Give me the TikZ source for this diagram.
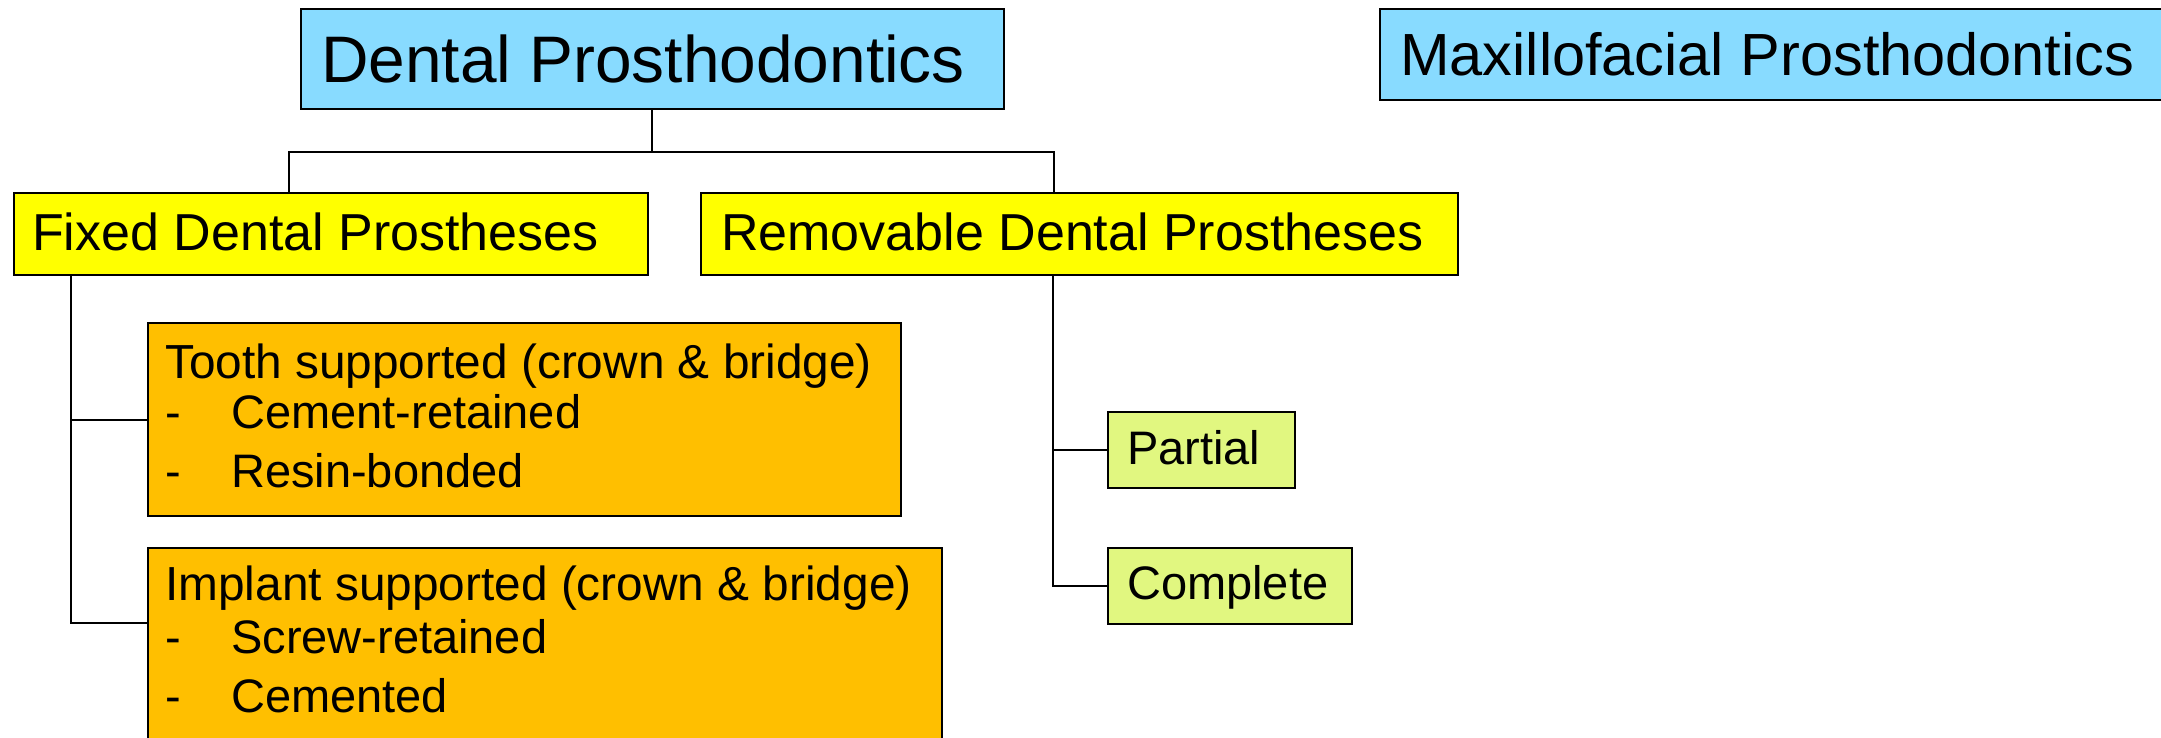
\documentclass[tikz,border=0pt]{standalone}
\usepackage{fontspec}
\setmainfont{Liberation Sans}
\definecolor{skyb}{RGB}{136,219,255}
\definecolor{ylw}{RGB}{255,255,0}
\definecolor{orng}{RGB}{255,191,0}
\definecolor{lime}{RGB}{225,247,128}
\tikzset{
  box/.style={draw=black, line width=2.2pt, inner sep=0pt, anchor=north west},
  lbl/.style={anchor=base west, inner sep=0pt, text=black},
  conn/.style={draw=black, line width=2pt},
}
\newcommand{\fs}[1]{\fontsize{#1}{#1}\selectfont}
\begin{document}
\begin{tikzpicture}[x=1pt,y=-1pt]
\useasboundingbox (0,0) rectangle (2161,737);
\clip (0,0) rectangle (2161,737);
% boxes
\node[box, fill=skyb, minimum width=703pt, minimum height=100pt] (dp) at (300,8) {};
\node[box, fill=skyb, minimum width=800pt, minimum height=91pt] (mp) at (1379,8) {};
\node[box, fill=ylw, minimum width=634pt, minimum height=82pt] (fdp) at (13,192) {};
\node[box, fill=ylw, minimum width=757pt, minimum height=82pt] (rdp) at (700,192) {};
\node[box, fill=orng, minimum width=753pt, minimum height=193pt] (tooth) at (147,322) {};
\node[box, fill=orng, minimum width=794pt, minimum height=210pt] (impl) at (147,547) {};
\node[box, fill=lime, minimum width=187pt, minimum height=76pt] (part) at (1107,411) {};
\node[box, fill=lime, minimum width=244pt, minimum height=76pt] (comp) at (1107,547) {};
% texts
\node[lbl, font=\fs{65.8}] (dpt) at (321,82) {Dental Prosthodontics};
\node[lbl, font=\fs{59.5}] (mpt) at (1400,75) {Maxillofacial Prosthodontics};
\node[lbl, font=\fs{52}] (fdpt) at (32,250) {Fixed Dental Prostheses};
\node[lbl, font=\fs{52}] (rdpt) at (721,250) {Removable Dental Prostheses};
\node[lbl, font=\fs{47.8}] (t0) at (165,378) {Tooth supported (crown \& bridge)};
\node[lbl, font=\fs{47}] (t1d) at (165,428) {-};
\node[lbl, font=\fs{47}] (t1) at (231,428) {Cement-retained};
\node[lbl, font=\fs{47}] (t2d) at (165,487) {-};
\node[lbl, font=\fs{47}] (t2) at (231,487) {Resin-bonded};
\node[lbl, font=\fs{47.8}] (i0) at (165,600) {Implant supported (crown \& bridge)};
\node[lbl, font=\fs{47}] (i1d) at (165,653) {-};
\node[lbl, font=\fs{47}] (i1) at (231,653) {Screw-retained};
\node[lbl, font=\fs{47}] (i2d) at (165,712) {-};
\node[lbl, font=\fs{47}] (i2) at (231,712) {Cemented};
\node[lbl, font=\fs{47}] (pt) at (1127,464) {Partial};
\node[lbl, font=\fs{47}] (ct) at (1127,599) {Complete};
% connectors
\coordinate (j1) at (652,152);
\draw[conn] (dp.south -| j1) -- (j1);
\draw[conn] ([xshift=-42pt]fdp.north) |- (j1) -| ([xshift=-26pt]rdp.north);
\coordinate (fv) at (71,0);
\draw[conn] (fdp.south -| fv) |- (tooth.west);
\draw[conn] (fdp.south -| fv) |- ([yshift=-76pt]impl.north west);
\coordinate (rv) at (1053,0);
\draw[conn] (rdp.south -| rv) |- (part.west);
\draw[conn] (rdp.south -| rv) |- (comp.west);
\end{tikzpicture}
\end{document}
